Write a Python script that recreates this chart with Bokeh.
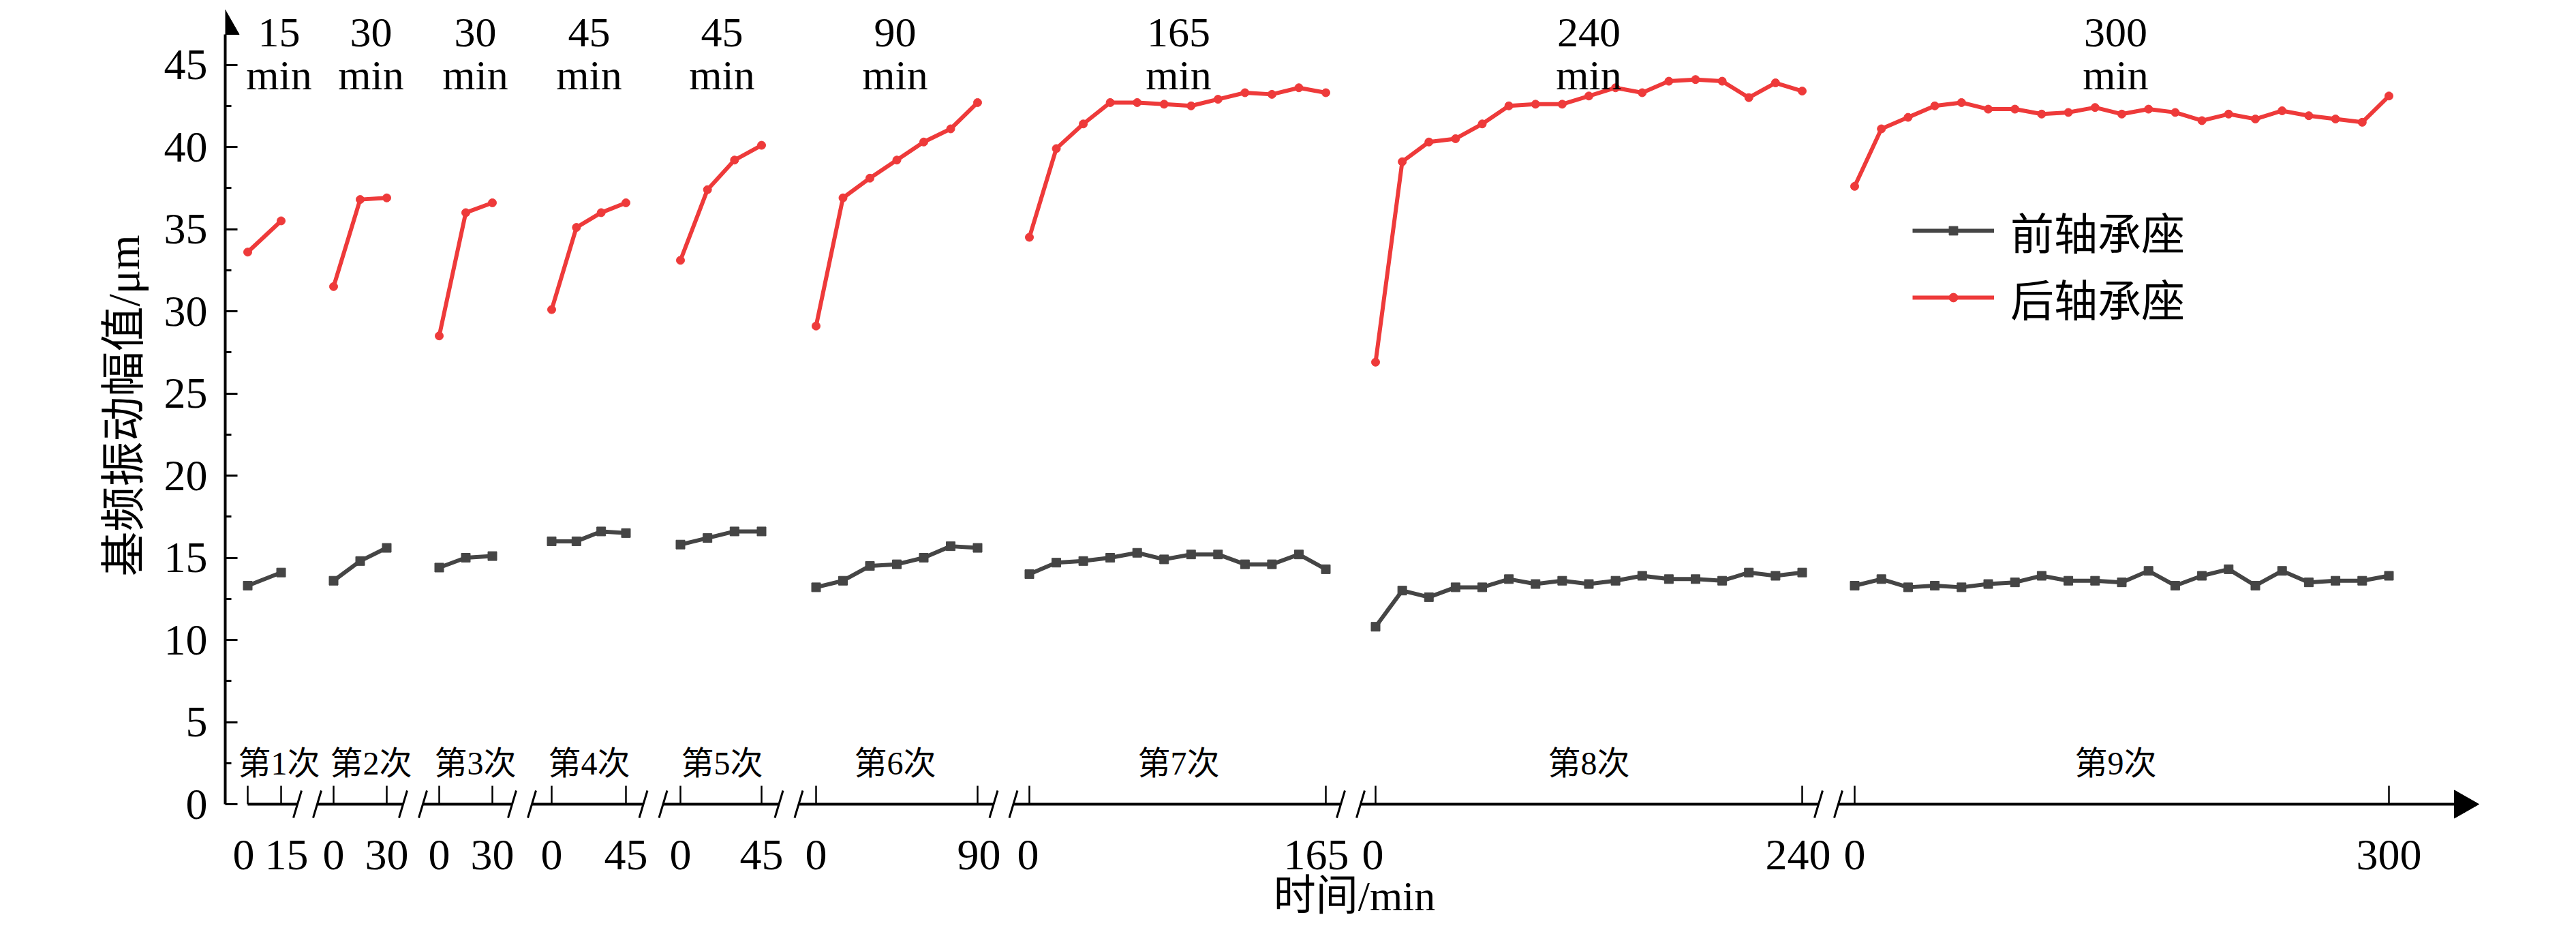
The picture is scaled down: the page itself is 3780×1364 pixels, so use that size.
import numpy as np
from bokeh.plotting import figure
from bokeh.models import Range1d, FixedTicker, Legend, LegendItem, Title, ColumnDataSource
from bokeh.core.properties import value
from bokeh.embed import file_html
from bokeh.resources import INLINE

# ---------------- data ----------------
run_names = ["第1次", "第2次", "第3次", "第4次", "第5次", "第6次", "第7次", "第8次", "第9次"]
run_durations = [15, 30, 30, 45, 45, 90, 165, 240, 300]   # min
sample_step = 15                                            # min between samples
series_names = ["前轴承座", "后轴承座"]

front_seat = [
    [13.3, 14.1],
    [13.6, 14.8, 15.6],
    [14.4, 15.0, 15.1],
    [16.0, 16.0, 16.6, 16.5],
    [15.8, 16.2, 16.6, 16.6],
    [13.2, 13.6, 14.5, 14.6, 15.0, 15.7, 15.6],
    [14.0, 14.7, 14.8, 15.0, 15.3, 14.9, 15.2, 15.2, 14.6, 14.6, 15.2, 14.3],
    [10.8, 13.0, 12.6, 13.2, 13.2, 13.7, 13.4, 13.6, 13.4, 13.6, 13.9, 13.7,
     13.7, 13.6, 14.1, 13.9, 14.1],
    [13.3, 13.7, 13.2, 13.3, 13.2, 13.4, 13.5, 13.9, 13.6, 13.6, 13.5, 14.2,
     13.3, 13.9, 14.3, 13.3, 14.2, 13.5, 13.6, 13.6, 13.9],
]
rear_seat = [
    [33.6, 35.5],
    [31.5, 36.8, 36.9],
    [28.5, 36.0, 36.6],
    [30.1, 35.1, 36.0, 36.6],
    [33.1, 37.4, 39.2, 40.1],
    [29.1, 36.9, 38.1, 39.2, 40.3, 41.1, 42.7],
    [34.5, 39.9, 41.4, 42.7, 42.7, 42.6, 42.5, 42.9, 43.3, 43.2, 43.6, 43.3],
    [26.9, 39.1, 40.3, 40.5, 41.4, 42.5, 42.6, 42.6, 43.1, 43.6, 43.3, 44.0,
     44.1, 44.0, 43.0, 43.9, 43.4],
    [37.6, 41.1, 41.8, 42.5, 42.7, 42.3, 42.3, 42.0, 42.1, 42.4, 42.0, 42.3,
     42.1, 41.6, 42.0, 41.7, 42.2, 41.9, 41.7, 41.5, 43.1],
]
y_ticks = [0, 5, 10, 15, 20, 25, 30, 35, 40, 45]
y_minor_ticks = [2.5, 7.5, 12.5, 17.5, 22.5, 27.5, 32.5, 37.5, 42.5]
y_title = "基频振动幅值/μm"
x_title = "时间/min"

# ---------------- layout (page pixels) ----------------
W, H = 3764, 1348
AXIS_X = 338          # page x of the y axis
Y0 = 1187             # page y of value 0
PPU = 24.1            # pixels per unit on y
seg_x0 = [371, 497, 652, 817, 1006, 1205, 1518, 2026, 2729]
seg_x1 = [420, 575, 730, 926, 1125, 1442, 1953, 2652, 3513]
label_x = [417, 552, 705, 872, 1067, 1321, 1737, 2339, 3112]
nudge0 = [-6, 0, 0, 0, 0, 0, -2, -4, 0]
nudge1 = [8, 0, 0, 0, 0, 2, -14, -6, 0]
ARROW_BASE, ARROW_TIP = 3609, 3645
Y_TITLE_TOP = 352     # page y where the rotated y title ends

SERIF = "Liberation Serif"
MIXED = "Liberation Serif, Noto Sans CJK SC"
BLACK_S = "#454545"
RED_S = "#ee3a3a"


def v(page_y):
    return (Y0 - page_y) / PPU


p = figure(width=W, height=H, output_backend="svg", toolbar_location=None,
           x_range=Range1d(AXIS_X, 8 + W), y_range=Range1d(v(8 + H), v(8)),
           x_axis_location=None, y_axis_location="left",
           min_border_left=AXIS_X - 8, min_border_right=0,
           min_border_top=0, min_border_bottom=0)
p.grid.visible = False
p.outline_line_color = None
p.background_fill_color = "white"
p.border_fill_color = "white"

# y axis
ax = p.yaxis[0]
ax.ticker = FixedTicker(ticks=y_ticks, minor_ticks=y_minor_ticks)
ax.bounds = (0, v(58))
ax.axis_line_width = 4
ax.axis_line_color = "black"
ax.major_tick_in = 18
ax.major_tick_out = 0
ax.minor_tick_in = 9
ax.minor_tick_out = 0
ax.major_tick_line_width = 3
ax.minor_tick_line_width = 3
ax.major_label_standoff = 26
ax.major_label_text_font = SERIF
ax.major_label_text_font_size = "64px"
ax.major_label_text_color = "black"

# y arrow
p.patch(x=[AXIS_X - 20.5, AXIS_X, AXIS_X + 20.5], y=[v(58), v(22), v(58)], color="black")

# y title (side panel, its top end placed as in the reference)
p.add_layout(Title(text=y_title, align="right", offset=Y_TITLE_TOP - 8,
                   standoff=40, text_font=MIXED, text_font_size="66px",
                   text_font_style="normal", text_color="black"), "left")


# ---------------- series ----------------
def build(series):
    xs, ys = [], []
    for k, vals in enumerate(series):
        dur = run_durations[k]
        for i, val in enumerate(vals):
            t = i * sample_step
            xs.append(seg_x0[k] + t / dur * (seg_x1[k] - seg_x0[k]))
            ys.append(val)
        xs.append(np.nan)
        ys.append(np.nan)
    return ColumnDataSource(dict(x=xs, y=ys))


src_f = build(front_seat)
src_r = build(rear_seat)
lf = p.line("x", "y", source=src_f, line_color=BLACK_S, line_width=6)
sf = p.scatter("x", "y", source=src_f, marker="square", size=13, color=BLACK_S)
lr = p.line("x", "y", source=src_r, line_color=RED_S, line_width=6)
sr = p.scatter("x", "y", source=src_r, marker="circle", size=12, color=RED_S)

# ---------------- broken x axis ----------------
mids = [(seg_x1[k] + seg_x0[k + 1]) / 2 for k in range(len(seg_x0) - 1)]
slash1 = [m - 14.5 for m in mids]
slash2 = [m + 14.5 for m in mids]
line_l = [seg_x0[0]] + slash2
line_r = slash1 + [ARROW_BASE]
p.segment(x0=line_l, y0=[0] * len(line_l), x1=line_r, y1=[0] * len(line_r),
          line_color="black", line_width=4)
tick_x = seg_x0 + seg_x1
p.segment(x0=tick_x, y0=[0] * len(tick_x), x1=tick_x, y1=[v(Y0 - 27)] * len(tick_x),
          line_color="black", line_width=2.5)
sl = slash1 + slash2
p.segment(x0=[s - 6 for s in sl], y0=[v(1207)] * len(sl),
          x1=[s + 6 for s in sl], y1=[v(1167)] * len(sl),
          line_color="black", line_width=3)
p.patch(x=[ARROW_BASE, ARROW_TIP, ARROW_BASE], y=[v(1166.5), 0, v(1207.5)], color="black")

# x tick labels
xl_x = [seg_x0[k] + nudge0[k] for k in range(9)] + [seg_x1[k] + nudge1[k] for k in range(9)]
xl_t = ["0"] * 9 + [str(d) for d in run_durations]
p.text(x=xl_x, y=[v(1261)] * len(xl_x), text=xl_t, text_font=value(SERIF),
       text_font_size=value("64px"), text_align="center", text_baseline="alphabetic",
       text_color="black")

# run labels
p.text(x=label_x, y=[v(1127)] * 9, text=run_names, text_font=value(MIXED),
       text_font_size=value("48px"), text_align="center", text_baseline="middle",
       text_color="black")

# duration labels at the top
p.text(x=label_x, y=[v(55)] * 9, text=[str(d) for d in run_durations],
       text_font=value(SERIF), text_font_size=value("62px"), text_align="center",
       text_baseline="alphabetic", text_color="black")
p.text(x=label_x, y=[v(117)] * 9, text=["min"] * 9,
       text_font=value(SERIF), text_font_size=value("62px"), text_align="center",
       text_baseline="alphabetic", text_color="black")

# x title
p.text(x=[1995], y=[v(1321)], text=[x_title], text_font=value(MIXED),
       text_font_size=value("62px"), text_align="center", text_baseline="middle",
       text_color="black")

# ---------------- legend ----------------
ROW_H = 93
SPACING = 98 - ROW_H
legend = Legend(items=[LegendItem(label=series_names[0], renderers=[lf, sf]),
                       LegendItem(label=series_names[1], renderers=[lr, sr])],
                location=(2814 - AXIS_X, (8 + H) - (444 + ROW_H / 2)),
                orientation="vertical", glyph_width=120, glyph_height=32,
                label_height=ROW_H, label_standoff=24, spacing=SPACING,
                padding=0, margin=0, border_line_alpha=0, background_fill_alpha=0,
                label_text_font=MIXED, label_text_font_size="64px",
                label_text_color="black")
p.add_layout(legend)

open("out.html", "w").write(file_html(p, INLINE))
